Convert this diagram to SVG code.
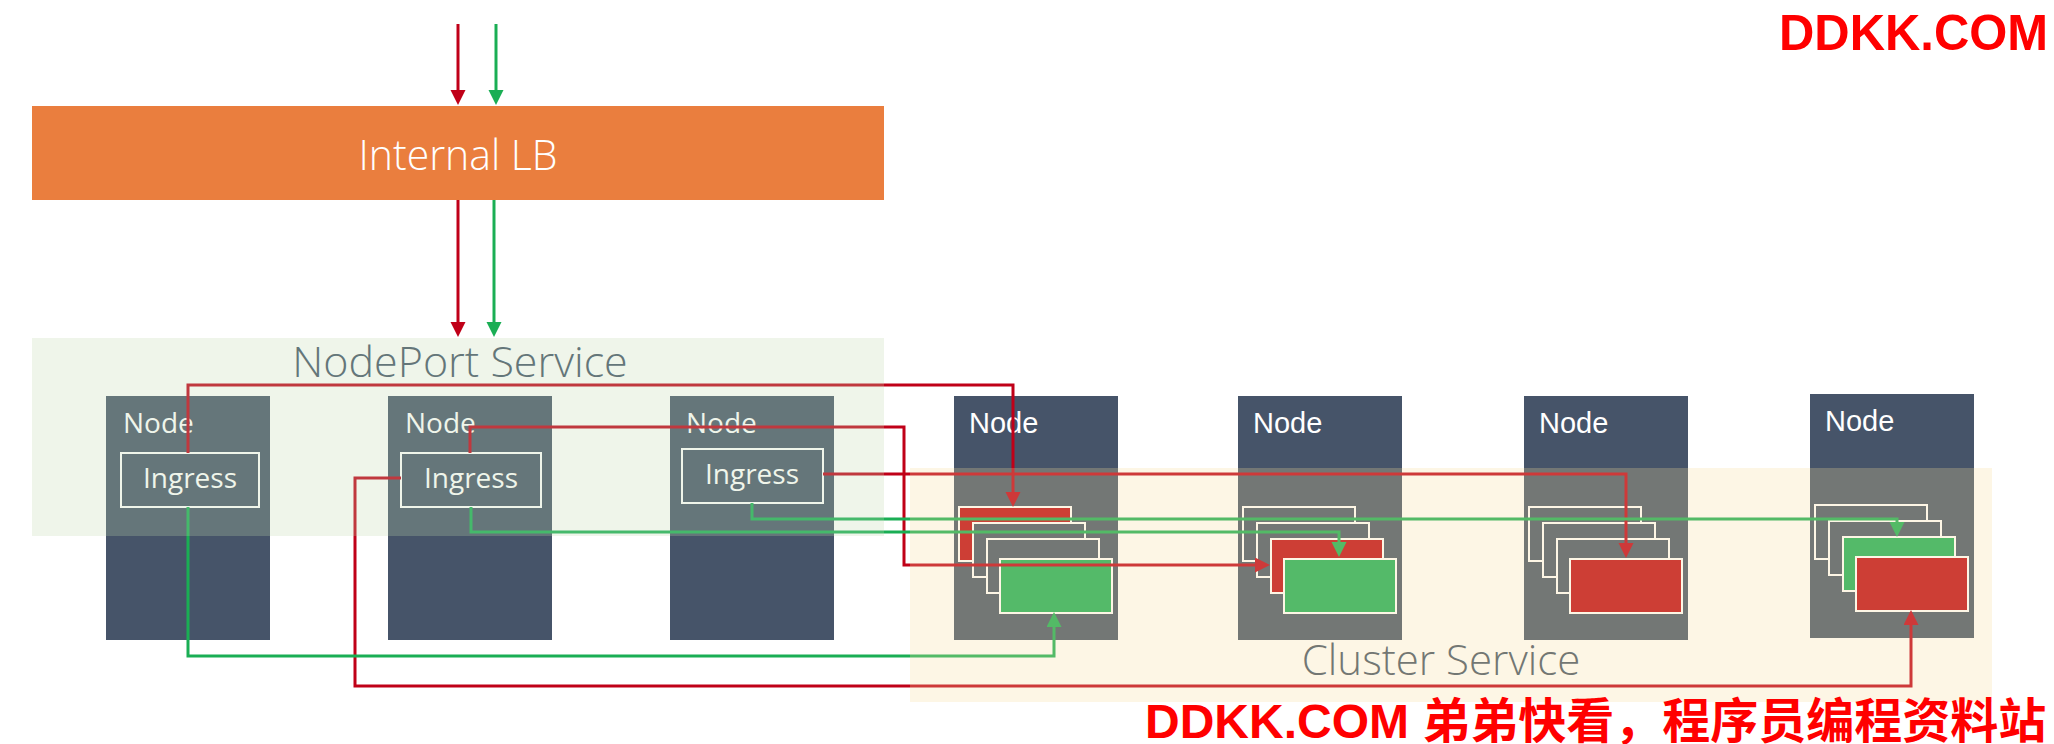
<svg xmlns="http://www.w3.org/2000/svg" width="2054" height="744" viewBox="0 0 2054 744">
  <style>
    .node{fill:#465469}
    .nlab{font-family:"Open Sans","Liberation Sans",sans-serif;font-size:28px;fill:#ffffff}
    .nlab2{font-family:"Liberation Sans",Arial,sans-serif;font-size:29px;fill:#ffffff}
    .ing{fill:none;stroke:#ffffff;stroke-width:2}
    .ingt{font-family:"Open Sans","Liberation Sans",sans-serif;font-size:28px;fill:#ffffff;text-anchor:middle}
    .pg{fill:#465469;stroke:#ffffff;stroke-width:2}
    .pr{fill:#BE0812;stroke:#ffffff;stroke-width:2}
    .pn{fill:#1BAF58;stroke:#ffffff;stroke-width:2}
    .lr{fill:none;stroke:#C00018;stroke-width:3;marker-end:url(#ar)}
    .lg{fill:none;stroke:#1AAE54;stroke-width:3;marker-end:url(#ag)}
    .big{font-family:"Open Sans","Liberation Sans",sans-serif;font-weight:300;text-anchor:middle}
    .wm{font-family:"Liberation Sans","Noto Sans CJK SC",sans-serif;font-weight:bold;fill:#FF0000}
  </style>
  <defs>
    <marker id="ar" markerUnits="userSpaceOnUse" markerWidth="16" markerHeight="16" refX="10" refY="7.5" orient="auto">
      <path d="M0,0 L15,7.5 L0,15 z" fill="#C00018"/>
    </marker>
    <marker id="ag" markerUnits="userSpaceOnUse" markerWidth="16" markerHeight="16" refX="10" refY="7.5" orient="auto">
      <path d="M0,0 L15,7.5 L0,15 z" fill="#1AAE54"/>
    </marker>
  </defs>
  <rect width="2054" height="744" fill="#ffffff"/>

  <g id="internal-lb">
    <rect x="32" y="106" width="852" height="94" fill="#EA7E3E"/>
    <text class="big" x="458" y="170" font-size="43" fill="#ffffff" textLength="199" lengthAdjust="spacingAndGlyphs">Internal LB</text>
  </g>

  <g id="node1">
    <rect class="node" x="106" y="396" width="164" height="244"/>
    <text class="nlab" x="123" y="433">Node</text>
    <rect class="ing" x="121" y="453" width="138" height="54"/>
    <text class="ingt" x="190" y="488">Ingress</text>
  </g>
  <g id="node2">
    <rect class="node" x="388" y="396" width="164" height="244"/>
    <text class="nlab" x="405" y="433">Node</text>
    <rect class="ing" x="401" y="453" width="140" height="54"/>
    <text class="ingt" x="471" y="488">Ingress</text>
  </g>
  <g id="node3">
    <rect class="node" x="670" y="396" width="164" height="244"/>
    <text class="nlab" x="686" y="433">Node</text>
    <rect class="ing" x="682" y="449" width="141" height="54"/>
    <text class="ingt" x="752" y="484">Ingress</text>
  </g>
  <g id="node4">
    <rect class="node" x="954" y="396" width="164" height="244"/>
    <text class="nlab2" x="969" y="433">Node</text>
    <rect class="pr" x="959" y="507" width="112" height="54"/>
    <rect class="pg" x="973" y="523" width="112" height="54"/>
    <rect class="pg" x="987" y="539" width="112" height="54"/>
    <rect class="pn" x="1000" y="559" width="112" height="54"/>
  </g>
  <g id="node5">
    <rect class="node" x="1238" y="396" width="164" height="244"/>
    <text class="nlab2" x="1253" y="433">Node</text>
    <rect class="pg" x="1243" y="507" width="112" height="54"/>
    <rect class="pg" x="1257" y="523" width="112" height="54"/>
    <rect class="pr" x="1271" y="539" width="112" height="54"/>
    <rect class="pn" x="1284" y="559" width="112" height="54"/>
  </g>
  <g id="node6">
    <rect class="node" x="1524" y="396" width="164" height="244"/>
    <text class="nlab2" x="1539" y="433">Node</text>
    <rect class="pg" x="1529" y="507" width="112" height="54"/>
    <rect class="pg" x="1543" y="523" width="112" height="54"/>
    <rect class="pg" x="1557" y="539" width="112" height="54"/>
    <rect class="pr" x="1570" y="559" width="112" height="54"/>
  </g>
  <g id="node7">
    <rect class="node" x="1810" y="394" width="164" height="244"/>
    <text class="nlab2" x="1825" y="431">Node</text>
    <rect class="pg" x="1815" y="505" width="112" height="54"/>
    <rect class="pg" x="1829" y="521" width="112" height="54"/>
    <rect class="pn" x="1843" y="537" width="112" height="54"/>
    <rect class="pr" x="1856" y="557" width="112" height="54"/>
  </g>

  <g id="connectors">
    <path class="lr" d="M458,24 V100"/>
    <path class="lg" d="M496,24 V100"/>
    <path class="lr" d="M458,200 V332"/>
    <path class="lg" d="M494,200 V332"/>
    <path class="lr" d="M188,453 V385 H1013 V502"/>
    <path class="lr" d="M470,453 V427 H904 V565 H1265"/>
    <path class="lr" d="M401,478 H355 V686 H1911 V615"/>
    <path class="lr" d="M823,474 H1626 V553"/>
    <path class="lg" d="M188,507 V656 H1054 V617"/>
    <path class="lg" d="M471,507 V532 H1339 V552"/>
    <path class="lg" d="M752,503 V519 H1897 V532"/>
  </g>

  <g id="nodeport-service">
    <rect x="32" y="338" width="852" height="198" fill="rgb(193,217,174)" fill-opacity="0.26"/>
    <text class="big" x="460" y="377" font-size="43" fill="#647679">NodePort Service</text>
  </g>
  <g id="cluster-service">
    <rect x="910" y="468" width="1082" height="234" fill="rgb(247,220,155)" fill-opacity="0.26"/>
    <text class="big" x="1441" y="675" font-size="42" fill="#737773">Cluster Service</text>
  </g>

  <text class="wm" x="1779" y="50" font-size="50" textLength="269" lengthAdjust="spacingAndGlyphs">DDKK.COM</text>
  <text class="wm" x="1145" y="738" font-size="48">DDKK.COM 弟弟快看，程序员编程资料站</text>
</svg>
